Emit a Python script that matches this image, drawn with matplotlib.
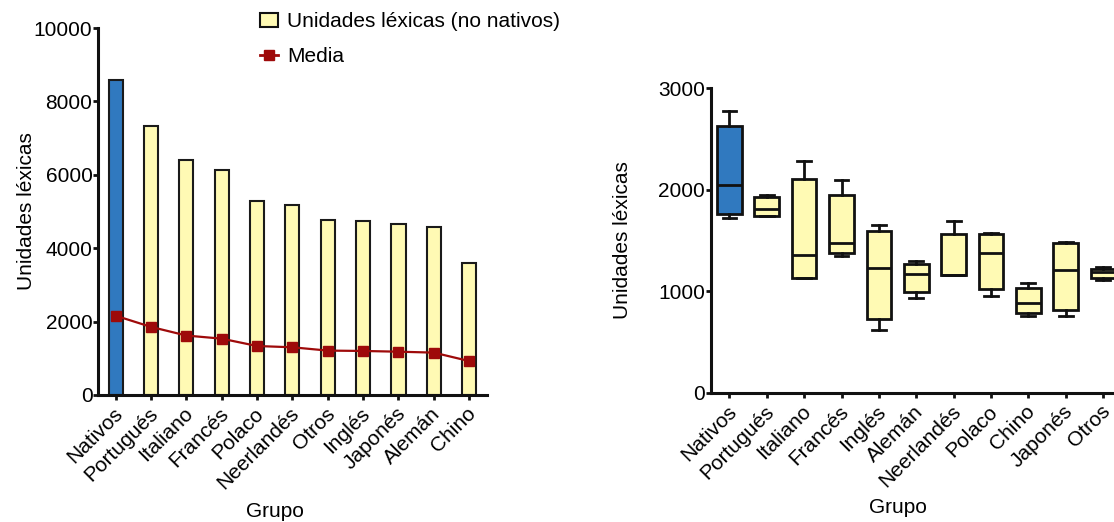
import matplotlib
matplotlib.use('agg')
import matplotlib.pyplot as plt
import matplotlib.transforms as mtransforms
from matplotlib.patches import Patch
from matplotlib.lines import Line2D
import numpy as np

plt.rcParams['font.family'] = ['Liberation Sans', 'DejaVu Sans']

# datos panel izquierdo
grupos_izq = ["Nativos", "Portugués", "Italiano", "Francés", "Polaco", "Neerlandés",
              "Otros", "Inglés", "Japonés", "Alemán", "Chino"]
unidades = [8590, 7320, 6410, 6130, 5300, 5190, 4770, 4745, 4665, 4580, 3590]
media = [2160, 1855, 1620, 1535, 1335, 1300, 1210, 1200, 1180, 1155, 925]

# datos panel derecho (cajas): min, q1, mediana, q3, max
grupos_der = ["Nativos", "Portugués", "Italiano", "Francés", "Inglés", "Alemán",
              "Neerlandés", "Polaco", "Chino", "Japonés", "Otros"]
minimo = [1725, 1738, 1133, 1347, 618, 936, 1159, 953, 759, 756, 1110]
q1 = [1764, 1741, 1135, 1376, 723, 992, 1160, 1021, 788, 812, 1133]
mediana = [2046, 1810, 1356, 1478, 1229, 1166, 1165, 1381, 881, 1206, 1189]
q3 = [2628, 1931, 2105, 1948, 1590, 1268, 1563, 1563, 1028, 1475, 1222]
maximo = [2775, 1945, 2283, 2099, 1649, 1298, 1695, 1573, 1081, 1488, 1235]

azul = '#3079BF'
amarillo = '#FFFAB4'
rojo = '#9E0A0A'
fs = 15

fig = plt.figure(figsize=(11.14, 5.22), dpi=100)

# ---- panel izquierdo
ax1 = fig.add_axes([0.088, 0.2433, 0.349, 0.703])
x = np.arange(len(grupos_izq))
colores = [azul] + [amarillo] * (len(grupos_izq) - 1)
ax1.bar(x, unidades, width=0.4, color=colores, edgecolor='#1a1a1a', linewidth=1.5, zorder=2)
ax1.plot(x, media, color=rojo, marker='s', markersize=7, linewidth=1.6, zorder=3)
ax1.set_xlim(-0.5, 10.5)
ax1.set_ylim(0, 10000)
ax1.set_yticks([0, 2000, 4000, 6000, 8000, 10000])
ax1.set_xticks(x)
ax1.set_xticklabels(grupos_izq, rotation=45, ha='right', rotation_mode='anchor')
ax1.set_ylabel("Unidades léxicas", fontsize=fs)
ax1.set_xlabel("Grupo", fontsize=fs, va='top')
ax1.yaxis.set_label_coords(-0.16, 0.5)
ax1.xaxis.set_label_coords(0.455, -0.292)

# ---- panel derecho
ax2 = fig.add_axes([0.638, 0.2477, 0.369, 0.583])
stats = []
for i in range(len(grupos_der)):
    stats.append(dict(med=mediana[i], q1=q1[i], q3=q3[i], whislo=minimo[i],
                      whishi=maximo[i], fliers=[]))
xb = np.arange(len(grupos_der))
bp = ax2.bxp(stats, positions=xb, widths=0.66, capwidths=0.37, patch_artist=True,
             showfliers=False,
             boxprops=dict(linewidth=2, edgecolor='#111111'),
             medianprops=dict(color='#111111', linewidth=2),
             whiskerprops=dict(color='#111111', linewidth=2),
             capprops=dict(color='#111111', linewidth=2))
for i, caja in enumerate(bp['boxes']):
    caja.set_facecolor(azul if i == 0 else amarillo)
ax2.set_xlim(-0.5, 10.5)
ax2.set_ylim(0, 3000)
ax2.set_yticks([0, 1000, 2000, 3000])
ax2.set_xticks(xb)
ax2.set_xticklabels(grupos_der, rotation=45, ha='right', rotation_mode='anchor')
ax2.set_ylabel("Unidades léxicas", fontsize=fs)
ax2.set_xlabel("Grupo", fontsize=fs, va='top')
ax2.yaxis.set_label_coords(-0.191, 0.5)
ax2.xaxis.set_label_coords(0.456, -0.346)

desplaza = mtransforms.ScaledTranslation(-2 / 72, -2.5 / 72, fig.dpi_scale_trans)
for ax in (ax1, ax2):
    for s in ('top', 'right'):
        ax.spines[s].set_visible(False)
    for s in ('left', 'bottom'):
        ax.spines[s].set_linewidth(2.2)
        ax.spines[s].set_color('#111111')
    ax.tick_params(axis='both', direction='out', length=3.5, width=2, labelsize=fs,
                   color='#111111', pad=0.5)
    for lab in ax.get_xticklabels():
        lab.set_transform(lab.get_transform() + desplaza)

# leyenda
handles = [Patch(facecolor=amarillo, edgecolor='#111111', linewidth=1.5),
           Line2D([0], [0], color=rojo, marker='s', markersize=7, linewidth=2)]
fig.legend(handles, ["Unidades léxicas (no nativos)", "Media"], loc='upper left',
           bbox_to_anchor=(0.2166, 1.012), frameon=False, fontsize=fs,
           handlelength=0.85, handletextpad=0.45, labelspacing=0.75)

fig.savefig('out.png', dpi=100)
